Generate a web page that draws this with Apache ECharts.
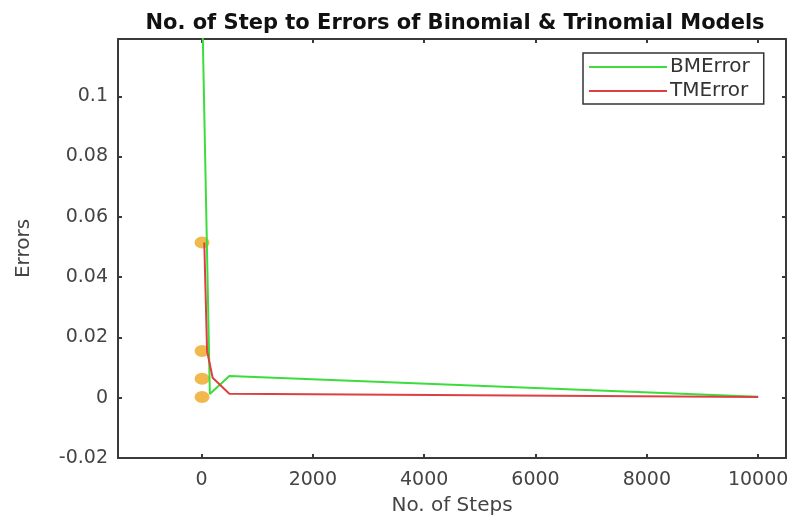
<!DOCTYPE html>
<html>
<head>
<meta charset="utf-8">
<script src="https://cdn.jsdelivr.net/npm/echarts@6/dist/echarts.min.js"></script>
<style>
  html, body { margin: 0; padding: 0; background: #fff; }
  #chart { width: 803px; height: 517px; }
</style>
</head>
<body>
<div id="chart"></div>
<script>
// data
const bmSteps = [10, 150, 500, 10000];
const bmError = [0.132, 0.0012, 0.0072, 0.0003];
const tmSteps = [50, 100, 200, 500, 10000];
const tmError = [0.0515, 0.0155, 0.0066, 0.0013, 0.0002];
const dotSteps = [10, 10, 10, 10];
const dotError = [0.0515, 0.0155, 0.0063, 0.0002];
const xTicks = [0, 2000, 4000, 6000, 8000, 10000];
const yTicks = [-0.02, 0, 0.02, 0.04, 0.06, 0.08, 0.1];

const pairs = (xs, ys) => xs.map((x, i) => [x, ys[i]]);

const chart = echarts.init(document.getElementById('chart'));
const font = 'DejaVu Sans';
const axisCol = '#3a3a3a';

const xBase = {
  type: 'value', min: -1500, max: 10500,
  axisLine: { show: true, onZero: false, lineStyle: { color: axisCol, width: 2 } },
  axisTick: { show: true, inside: true, length: 4, customValues: xTicks, lineStyle: { color: axisCol, width: 2 } },
  splitLine: { show: false }
};
const yBase = {
  type: 'value', min: -0.02, max: 0.119,
  axisLine: { show: true, onZero: false, lineStyle: { color: axisCol, width: 2 } },
  axisTick: { show: true, inside: true, length: 4, customValues: yTicks, lineStyle: { color: axisCol, width: 2 } },
  splitLine: { show: false }
};

chart.setOption({
  animation: false,
  backgroundColor: '#fff',
  title: {
    text: 'No. of Step to Errors of Binomial & Trinomial Models',
    left: 450, top: 8, textAlign: 'center',
    textStyle: { fontFamily: 'DejaVu Sans', fontWeight: 'bold', fontSize: 21, color: '#111' }
  },
  legend: {
    orient: 'vertical', left: 583, top: 53,
    data: ['BMError', 'TMError'],
    itemWidth: 78, itemHeight: 16, itemGap: 4,
    padding: [4, 14, 3, 6],
    borderColor: '#333', borderWidth: 1.5,
    backgroundColor: '#fff',
    icon: 'path://M0,7 L78,7 L78,9 L0,9 Z',
    textStyle: { fontFamily: font, fontSize: 20, color: '#333', padding: [0, 0, 0, -2] }
  },
  grid: { left: 118, right: 17, top: 39, bottom: 59, outerBoundsMode: 'none' },
  xAxis: [
    Object.assign({}, xBase, {
      position: 'bottom',
      name: 'No. of Steps', nameLocation: 'middle', nameGap: 38,
      nameTextStyle: { fontFamily: font, fontSize: 20, color: '#444' },
      axisLabel: { customValues: xTicks, margin: 13, fontFamily: font, fontSize: 19, color: '#444',
        formatter: v => String(v) }
    }),
    Object.assign({}, xBase, { position: 'top', axisLabel: { show: false } })
  ],
  yAxis: [
    Object.assign({}, yBase, {
      position: 'left',
      name: 'Errors', nameLocation: 'middle', nameGap: 84,
      nameTextStyle: { fontFamily: font, fontSize: 20, color: '#444' },
      axisLabel: { customValues: yTicks, margin: 10, fontFamily: font, fontSize: 19, color: '#444',
        formatter: v => String(v) }
    }),
    Object.assign({}, yBase, { position: 'right', axisLabel: { show: false } })
  ],
  series: [
    {
      name: 'BMError', type: 'line', data: pairs(bmSteps, bmError),
      showSymbol: false, clip: true,
      lineStyle: { color: '#3ddc3d', width: 2 }, itemStyle: { color: '#3ddc3d' }
    },
    {
      name: 'TMError', type: 'line', data: pairs(tmSteps, tmError),
      showSymbol: false, clip: true,
      lineStyle: { color: '#dc4040', width: 2 }, itemStyle: { color: '#dc4040' }
    },
    {
      name: 'points', type: 'scatter', data: pairs(dotSteps, dotError),
      symbolSize: [15, 12], z: 1,
      itemStyle: { color: '#eea622' }
    }
  ]
});
</script>
</body>
</html>
